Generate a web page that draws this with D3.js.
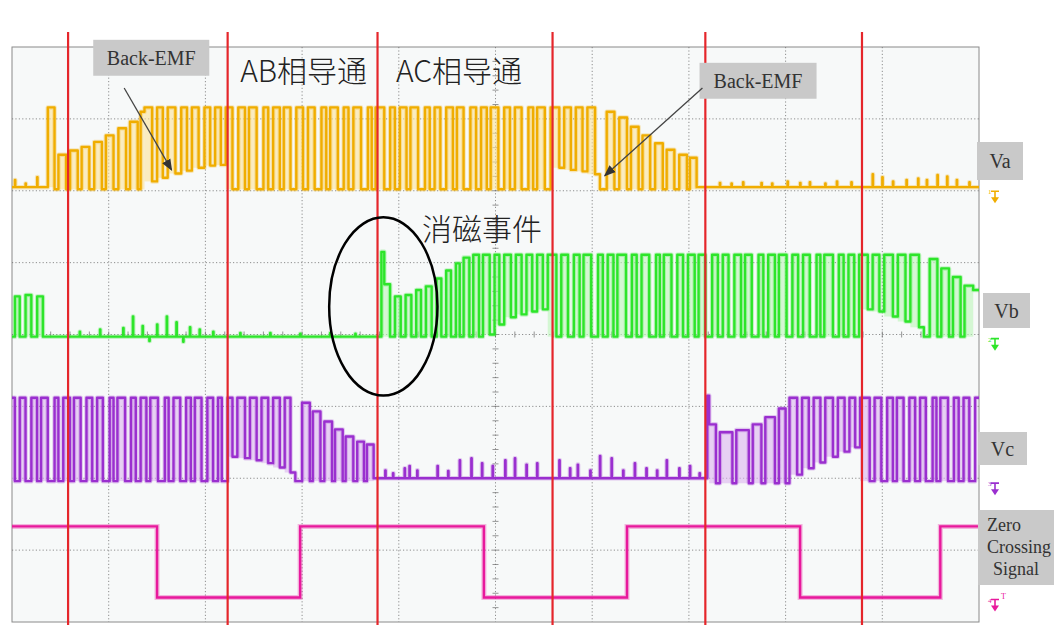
<!DOCTYPE html>
<html lang="zh">
<head>
<meta charset="UTF-8">
<title>BLDC 相电压与过零信号</title>
<style>
  body { margin: 0; padding: 0; background: #fff; }
  svg { display: block; }
</style>
<script src="https://d3js.org/d3.v7.min.js"></script>
</head>
<body>
<script>
// time in µs (100 µs per division), voltage in screen divisions
const timeDomain = [0, 1000];
const voltDomain = [-4, 4];

// red cursor lines (commutation points)
const cursorTimes = [58, 223, 378, 559, 717, 879];

// pulse entries: [t, width] = dip from hi to lo, or [t, width, base, peak]
// the trace sits at `base` until t, then at `peak` for `width`
const vaHi = 3.16, vaLo = 2.02, vaFloor = 2.05, vaEnd = 2.05;
const vaPulses = [
  [37, 7, 2.05, 3.16],
  [48, 8, 2.02, 2.50], [60, 8, 2.02, 2.56], [72, 8, 2.02, 2.61], [85, 8, 2.02, 2.68],
  [97, 8, 2.02, 2.77], [110, 8, 2.02, 2.87], [122, 8, 2.02, 2.96], [133, 4, 2.02, 3.10],
  [145, 5, 3.16, 2.13], [156, 5, 3.16, 2.18], [169, 6, 3.16, 2.24], [181, 5, 3.16, 2.28],
  [193, 6, 3.16, 2.32], [205, 5, 3.16, 2.35], [216, 5, 3.16, 2.36],
  [228, 6], [241, 4], [253, 7], [265, 5], [277, 4], [288, 6], [301, 5], [313, 7], [325, 4],
  [337, 6], [348, 5], [361, 7], [372, 4], [385, 6], [396, 5], [408, 4], [420, 7], [432, 5],
  [443, 6], [456, 4], [467, 7], [480, 5], [491, 4], [503, 6], [515, 5], [527, 7], [539, 4], [551, 6],
  [566, 5, 3.16, 2.32], [578, 5, 3.16, 2.29], [590, 5, 3.16, 2.27], [603, 5, 3.16, 2.23],
  [615, 8, 2.02, 3.10], [628, 8, 2.02, 3.02], [640, 8, 2.02, 2.89], [652, 8, 2.02, 2.77],
  [665, 8, 2.02, 2.66], [677, 8, 2.02, 2.57], [690, 8, 2.02, 2.50], [701, 7, 2.02, 2.46]
];
const vaSpikes = [
  [3, 0.10], [14, 0.05], [26, 0.14],
  [732, 0.06], [744, 0.05], [756, 0.07], [775, 0.06], [786, 0.05], [802, 0.08], [815, 0.06],
  [825, 0.07], [841, 0.05], [853, 0.08], [868, 0.07], [890, 0.18], [900, 0.14], [911, 0.08],
  [925, 0.10], [937, 0.12], [946, 0.10], [957, 0.17], [967, 0.15], [977, 0.10], [990, 0.07]
];

const vbHi = 1.11, vbLo = -0.03, vbFloor = -0.03, vbEnd = 0.62;
const vbPulses = [
  [3, 5, -0.03, 0.53], [14, 6, -0.03, 0.55], [26, 6, -0.03, 0.53],
  [382, 3, -0.03, 1.15],
  [391, 5, 0.70, -0.03], [402, 5, 0.53, -0.03], [413, 5, 0.55, -0.03], [423, 5, 0.62, -0.03],
  [434, 5, 0.67, -0.03], [444, 5, 0.78, -0.03], [454, 5, 0.89, -0.03], [463, 4, 0.99, -0.03],
  [473, 4, 1.07, -0.03], [483, 4, 1.11, -0.03],
  [494, 5, 1.11, 0.00], [504, 5, 1.11, 0.14], [516, 5, 1.11, 0.24], [527, 5, 1.11, 0.28],
  [538, 5, 1.11, 0.32], [549, 5, 1.11, 0.35],
  [563, 5], [575, 6], [587, 4], [599, 7], [611, 5], [622, 4], [635, 6], [646, 5], [659, 7],
  [670, 4], [682, 6], [694, 5], [706, 4], [717, 7], [730, 5], [741, 6], [754, 4], [765, 7],
  [777, 5], [789, 4], [801, 6], [813, 5], [825, 7], [836, 4], [849, 6], [860, 5], [871, 5],
  [885, 5, 1.11, 0.35], [897, 5, 1.11, 0.32], [911, 5, 1.11, 0.25], [924, 5, 1.11, 0.18],
  [938, 5, 1.11, 0.10],
  [949, 8, -0.03, 1.05], [961, 8, -0.03, 0.92], [973, 8, -0.03, 0.80], [985, 9, -0.03, 0.68]
];
const vbSpikes = [
  [70, 0.07], [91, 0.10], [115, 0.12], [125, 0.28], [135, 0.15], [142, -0.06], [150, 0.17],
  [160, 0.28], [170, 0.20], [177, -0.07], [184, 0.13], [194, 0.10], [208, 0.07], [236, 0.05],
  [267, 0.05], [298, 0.04], [329, 0.05], [355, 0.04]
];

const vcHi = -0.88, vcLo = -2.04, vcFloor = -2.00, vcEnd = -0.88;
const vcPulses = [
  [3, 5], [14, 6], [26, 4], [37, 7], [48, 5], [60, 4], [71, 6], [83, 5], [94, 7], [105, 4],
  [117, 6], [128, 5], [139, 4], [151, 7], [162, 5], [174, 6], [185, 4], [196, 6], [208, 5], [217, 6],
  [228, 5, -0.88, -1.70], [241, 5, -0.88, -1.72], [253, 5, -0.88, -1.75], [265, 5, -0.88, -1.79],
  [277, 5, -0.88, -1.85], [288, 5, -0.88, -1.92],
  [300, 8, -2.04, -0.95], [311, 8, -2.04, -1.07], [323, 8, -2.04, -1.21], [334, 8, -2.04, -1.32],
  [345, 8, -2.04, -1.42], [357, 7, -2.04, -1.49], [367, 7, -2.04, -1.53],
  [719, 2, -2.00, -0.85],
  [728, 4, -1.25, -2.07], [745, 4, -1.36, -2.07], [762, 4, -1.33, -2.07], [775, 4, -1.25, -2.07],
  [789, 4, -1.15, -2.07], [800, 4, -1.03, -2.07],
  [812, 5, -0.88, -1.95], [824, 5, -0.88, -1.86], [836, 5, -0.88, -1.78], [849, 5, -0.88, -1.70],
  [861, 5, -0.88, -1.63], [872, 5, -0.88, -1.57],
  [887, 5], [899, 6], [911, 4], [922, 6], [934, 5], [945, 7], [956, 4], [968, 6], [979, 5], [990, 6]
];
const vcSpikes = [
  [386, 0.11], [394, 0.07], [406, 0.14], [411, 0.17], [419, 0.11], [440, 0.17], [451, 0.10],
  [463, 0.25], [475, 0.28], [486, 0.21], [497, 0.17], [510, 0.25], [520, 0.28], [532, 0.19],
  [543, 0.21], [566, 0.25], [577, 0.14], [585, 0.19], [598, 0.11], [608, 0.31], [620, 0.28],
  [632, 0.11], [644, 0.21], [656, 0.14], [667, 0.11], [677, 0.25], [690, 0.14], [701, 0.17], [711, 0.07]
];

// zero crossing signal: edges alternate, starting high
const zcHi = -2.67, zcLo = -3.66;
const zcEdges = [150, 298, 488, 636, 815, 960];

const width = 1054, height = 633;
const plot = { left: 12, top: 47, right: 979, bottom: 622 };

const x = d3.scaleLinear().domain(timeDomain).range([plot.left, plot.right]);
const y = d3.scaleLinear().domain(voltDomain).range([plot.bottom, plot.top]);

const svg = d3.select("body").append("svg")
  .attr("width", width)
  .attr("height", height);

svg.append("rect").attr("width", width).attr("height", height).attr("fill", "#fff");

const defs = svg.append("defs");
defs.append("marker")
  .attr("id", "arrow")
  .attr("viewBox", "0 0 10 10")
  .attr("refX", 9).attr("refY", 5)
  .attr("markerWidth", 9).attr("markerHeight", 9)
  .attr("orient", "auto")
  .append("path").attr("d", "M0,1 L10,5 L0,9 Z").attr("fill", "#333");

// scope screen
svg.append("rect")
  .attr("x", plot.left).attr("y", plot.top)
  .attr("width", plot.right - plot.left).attr("height", plot.bottom - plot.top)
  .attr("fill", "#f7f9f9").attr("stroke", "#8a8a8a").attr("stroke-width", 1);

// dotted grid
const grid = svg.append("g").attr("stroke", "#6c6c6c").attr("stroke-width", 1)
  .attr("stroke-dasharray", "1.2,2.2").attr("opacity", 0.75);
grid.selectAll(".gx").data(d3.range(100, 1000, 100)).enter().append("line")
  .attr("x1", d => x(d)).attr("x2", d => x(d))
  .attr("y1", plot.top).attr("y2", plot.bottom);
grid.selectAll(".gy").data(d3.range(-3, 4, 1)).enter().append("line")
  .attr("x1", plot.left).attr("x2", plot.right)
  .attr("y1", d => y(d)).attr("y2", d => y(d));

// centre ticks
const ticks = svg.append("g").attr("stroke", "#6c6c6c").attr("stroke-width", 1).attr("opacity", 0.7);
ticks.selectAll(".ty").data(d3.range(-3.8, 4, 0.2)).enter().append("line")
  .attr("x1", x(500) - 3).attr("x2", x(500) + 3)
  .attr("y1", d => y(d)).attr("y2", d => y(d));
ticks.selectAll(".tx").data(d3.range(20, 1000, 20)).enter().append("line")
  .attr("x1", d => x(d)).attr("x2", d => x(d))
  .attr("y1", y(0) - 3).attr("y2", y(0) + 3);

// build a trace polyline and the pale persistence columns
function buildTrace(pulses, spikes, hi, lo, floor, endLevel) {
  const entries = pulses
    .map(p => [p[0], p[1], p.length > 2 ? p[2] : hi, p.length > 3 ? p[3] : lo])
    .concat(spikes.map(([t, h]) => [t, 0.4, floor, floor + h]))
    .sort((a, b) => a[0] - b[0]);
  const pts = [];
  const cols = [];
  let prevEnd = timeDomain[0];
  entries.forEach(([t, w, base, peak]) => {
    pts.push([prevEnd, base], [t, base], [t, peak], [t + w, peak]);
    if (w >= 2) {
      if (base > peak && t - prevEnd < 20) cols.push([prevEnd, t, peak, base]);
      if (peak > base) cols.push([t, t + w, base, peak]);
    }
    prevEnd = t + w;
  });
  pts.push([prevEnd, endLevel], [timeDomain[1], endLevel]);
  return { pts, cols };
}

const traces = [
  { data: buildTrace(vaPulses, vaSpikes, vaHi, vaLo, vaFloor, vaEnd), color: "#f0ad00", pale: "#fbe29a", lo: vaLo, tag: "1" },
  { data: buildTrace(vbPulses, vbSpikes, vbHi, vbLo, vbFloor, vbEnd), color: "#2de52a", pale: "#bdf5b9", lo: vbLo, tag: "2" },
  { data: buildTrace(vcPulses, vcSpikes, vcHi, vcLo, vcFloor, vcEnd), color: "#9a2fcf", pale: "#dcb4ef", lo: vcLo, tag: "3" }
];

const line = d3.line().x(d => x(d[0])).y(d => y(d[1]));

traces.forEach(tr => {
  svg.append("g").selectAll("rect").data(tr.data.cols).enter().append("rect")
    .attr("x", d => x(d[0])).attr("width", d => x(d[1]) - x(d[0]))
    .attr("y", d => y(d[3])).attr("height", d => y(d[2]) - y(d[3]))
    .attr("fill", tr.pale).attr("opacity", 0.6);
  svg.append("path").datum(tr.data.pts).attr("d", line)
    .attr("fill", "none").attr("stroke", tr.color).attr("stroke-width", 4.5)
    .attr("stroke-opacity", 0.25).attr("stroke-linejoin", "round");
  svg.append("path").datum(tr.data.pts).attr("d", line)
    .attr("fill", "none").attr("stroke", tr.color).attr("stroke-width", 2.4)
    .attr("stroke-linejoin", "round");
});

// zero crossing signal
const zcPts = [[timeDomain[0], zcHi]];
zcEdges.forEach((t, i) => {
  const from = i % 2 === 0 ? zcHi : zcLo;
  const to = i % 2 === 0 ? zcLo : zcHi;
  zcPts.push([t, from], [t, to]);
});
zcPts.push([timeDomain[1], zcEdges.length % 2 === 0 ? zcHi : zcLo]);
svg.append("path").datum(zcPts).attr("d", line)
  .attr("fill", "none").attr("stroke", "#e8199c").attr("stroke-width", 5)
  .attr("stroke-opacity", 0.3);
svg.append("path").datum(zcPts).attr("d", line)
  .attr("fill", "none").attr("stroke", "#e8199c").attr("stroke-width", 2.4);

// red cursor lines
svg.append("g").selectAll("line").data(cursorTimes).enter().append("line")
  .attr("x1", d => x(d)).attr("x2", d => x(d))
  .attr("y1", plot.top - 15).attr("y2", plot.bottom + 3)
  .attr("stroke", "#e5262b").attr("stroke-width", 2.2);

// ground markers at the right of the screen
const markers = traces.map(tr => ({ v: tr.lo, color: tr.color, tag: tr.tag }))
  .concat([{ v: zcLo, color: "#e8199c", tag: "4" }]);
markers.forEach(m => {
  const g = svg.append("g").attr("transform", `translate(${plot.right + 16},${y(m.v) + 2})`);
  g.append("path").attr("d", "M-4,0 H4 M0,0 V8").attr("stroke", m.color).attr("stroke-width", 1.6);
  g.append("path").attr("d", "M-4,6 L4,6 L0,12 Z").attr("fill", m.color);
  g.append("text").attr("x", -7).attr("y", 3).attr("font-size", 7)
    .attr("font-family", "Liberation Serif, serif").attr("fill", m.color).text(m.tag);
});
svg.append("text").attr("x", plot.right + 22).attr("y", y(zcLo) + 1).attr("font-size", 8)
  .attr("font-family", "Liberation Serif, serif").attr("fill", "#e8199c").text("T");

// Back-EMF callouts
const emfBoxes = [
  { t0: 84, t1: 204, v0: 4.10, v1: 3.60, from: [116, 3.43], to: [165, 2.29] },
  { t0: 711, t1: 832, v0: 3.78, v1: 3.28, from: [714, 3.43], to: [613, 2.21] }
];
emfBoxes.forEach(b => {
  svg.append("rect")
    .attr("x", x(b.t0)).attr("y", y(b.v0))
    .attr("width", x(b.t1) - x(b.t0)).attr("height", y(b.v1) - y(b.v0))
    .attr("fill", "#c9c9c9");
  svg.append("text")
    .attr("x", (x(b.t0) + x(b.t1)) / 2).attr("y", (y(b.v0) + y(b.v1)) / 2 + 7)
    .attr("text-anchor", "middle").attr("font-size", 20)
    .attr("font-family", "Liberation Serif, DejaVu Serif, serif").attr("fill", "#333")
    .text("Back-EMF");
  svg.append("line")
    .attr("x1", x(b.from[0])).attr("y1", y(b.from[1]))
    .attr("x2", x(b.to[0])).attr("y2", y(b.to[1]))
    .attr("stroke", "#444").attr("stroke-width", 1.3)
    .attr("marker-end", "url(#arrow)");
});

// Chinese annotations
const notes = [
  { text: "AB相导通", t: 236, v: 3.52 },
  { text: "AC相导通", t: 397, v: 3.52 },
  { text: "消磁事件", t: 424, v: 1.32 }
];
svg.selectAll(".note").data(notes).enter().append("text")
  .attr("x", d => x(d.t)).attr("y", d => y(d.v))
  .attr("font-size", 30).attr("font-family", "Noto Sans CJK SC, sans-serif")
  .attr("font-weight", 300)
  .attr("fill", "#222").text(d => d.text);

// demagnetisation ellipse
svg.append("ellipse")
  .attr("cx", x(384)).attr("cy", y(0.39))
  .attr("rx", x(56) - x(0)).attr("ry", y(0) - y(1.24))
  .attr("fill", "none").attr("stroke", "#000").attr("stroke-width", 2.5);

// channel labels on the right
const chLabels = [
  { lines: ["Va"], x: 977, y: 142, w: 46, h: 38 },
  { lines: ["Vb"], x: 983, y: 293, w: 47, h: 35 },
  { lines: ["Vc"], x: 978, y: 432, w: 49, h: 33 },
  { lines: ["Zero", "Crossing", "Signal"], x: 978, y: 510, w: 76, h: 75 }
];
chLabels.forEach(l => {
  svg.append("rect").attr("x", l.x).attr("y", l.y).attr("width", l.w).attr("height", l.h)
    .attr("fill", "#c9c9c9");
  if (l.lines.length === 1) {
    svg.append("text").attr("x", l.x + l.w / 2).attr("y", l.y + l.h / 2 + 7)
      .attr("text-anchor", "middle").attr("font-size", 20)
      .attr("font-family", "Liberation Serif, DejaVu Serif, serif").attr("fill", "#333")
      .text(l.lines[0]);
  } else {
    l.lines.forEach((s, i) => {
      svg.append("text").attr("x", l.x + 9 + (i === 2 ? 6 : 0)).attr("y", l.y + 21 + i * 22)
        .attr("font-size", 18)
        .attr("font-family", "Liberation Serif, DejaVu Serif, serif").attr("fill", "#333")
        .text(s);
    });
  }
});
</script>
</body>
</html>
